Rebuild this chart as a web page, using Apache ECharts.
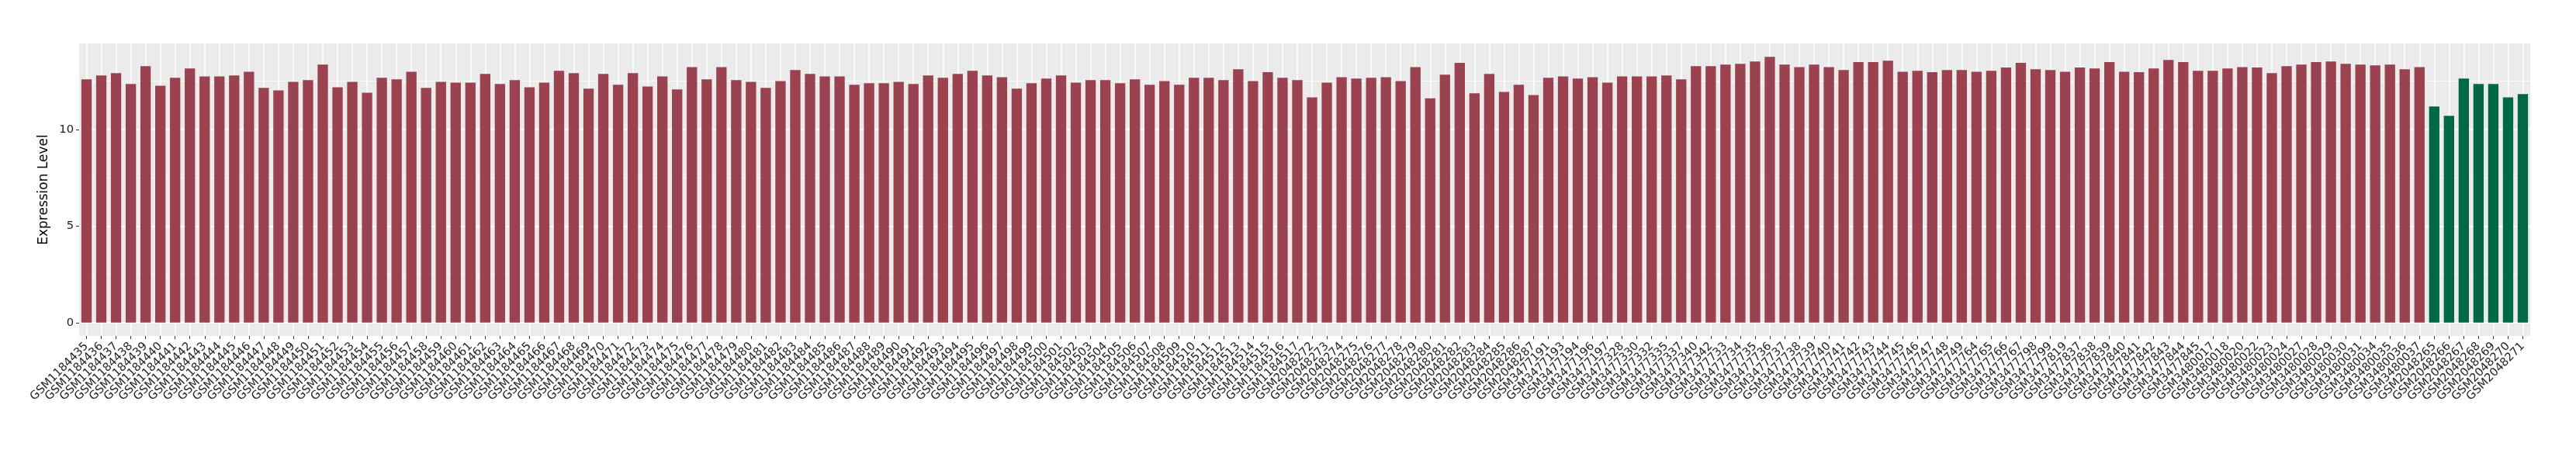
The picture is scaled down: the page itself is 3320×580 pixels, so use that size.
<!DOCTYPE html>
<html>
<head>
<meta charset="utf-8">
<script src="https://cdn.jsdelivr.net/npm/echarts@6/dist/echarts.min.js"></script>
<style>
html,body{margin:0;padding:0;background:#fff;}
#chart{width:3320px;height:580px;}
</style>
</head>
<body>
<div id="chart"></div>
<script>
const redSamples = [
"GSM1184435","GSM1184436","GSM1184437","GSM1184438","GSM1184439","GSM1184440","GSM1184441","GSM1184442","GSM1184443","GSM1184444",
"GSM1184445","GSM1184446","GSM1184447","GSM1184448","GSM1184449","GSM1184450","GSM1184451","GSM1184452","GSM1184453","GSM1184454",
"GSM1184455","GSM1184456","GSM1184457","GSM1184458","GSM1184459","GSM1184460","GSM1184461","GSM1184462","GSM1184463","GSM1184464",
"GSM1184465","GSM1184466","GSM1184467","GSM1184468","GSM1184469","GSM1184470","GSM1184471","GSM1184472","GSM1184473","GSM1184474",
"GSM1184475","GSM1184476","GSM1184477","GSM1184478","GSM1184479","GSM1184480","GSM1184481","GSM1184482","GSM1184483","GSM1184484",
"GSM1184485","GSM1184486","GSM1184487","GSM1184488","GSM1184489","GSM1184490","GSM1184491","GSM1184492","GSM1184493","GSM1184494",
"GSM1184495","GSM1184496","GSM1184497","GSM1184498","GSM1184499","GSM1184500","GSM1184501","GSM1184502","GSM1184503","GSM1184504",
"GSM1184505","GSM1184506","GSM1184507","GSM1184508","GSM1184509","GSM1184510","GSM1184511","GSM1184512","GSM1184513","GSM1184514",
"GSM1184515","GSM1184516","GSM1184517",
"GSM2048272","GSM2048273","GSM2048274","GSM2048275","GSM2048276","GSM2048277","GSM2048278","GSM2048279","GSM2048280","GSM2048281",
"GSM2048282","GSM2048283","GSM2048284","GSM2048285","GSM2048286","GSM2048287",
"GSM3477191","GSM3477193","GSM3477194","GSM3477196","GSM3477197","GSM3477328","GSM3477330","GSM3477332","GSM3477335","GSM3477337",
"GSM3477340","GSM3477342","GSM3477733","GSM3477734","GSM3477735","GSM3477736","GSM3477737","GSM3477738","GSM3477739","GSM3477740",
"GSM3477741","GSM3477742","GSM3477743","GSM3477744","GSM3477745","GSM3477746","GSM3477747","GSM3477748","GSM3477749","GSM3477764",
"GSM3477765","GSM3477766","GSM3477767","GSM3477798","GSM3477799","GSM3477819","GSM3477837","GSM3477838","GSM3477839","GSM3477840",
"GSM3477841","GSM3477842","GSM3477843","GSM3477844","GSM3477845",
"GSM3480017","GSM3480018","GSM3480020","GSM3480022","GSM3480023","GSM3480024","GSM3480027","GSM3480028","GSM3480029","GSM3480030",
"GSM3480031","GSM3480034","GSM3480035","GSM3480036","GSM3480037"
];
const redValues = [
12.60,12.80,12.92,12.36,13.28,12.27,12.68,13.16,12.75,12.75,
12.80,12.99,12.16,12.03,12.47,12.56,13.36,12.19,12.47,11.91,
12.68,12.60,12.99,12.16,12.47,12.43,12.43,12.88,12.36,12.56,
12.19,12.43,13.04,12.92,12.12,12.88,12.32,12.92,12.23,12.75,
12.08,13.23,12.60,13.23,12.56,12.47,12.16,12.51,13.08,12.88,
12.75,12.75,12.32,12.40,12.40,12.47,12.36,12.80,12.68,12.88,
13.04,12.80,12.71,12.12,12.40,12.64,12.80,12.43,12.56,12.56,
12.40,12.60,12.32,12.51,12.32,12.68,12.68,12.56,13.12,12.51,
12.97,12.68,12.56,
11.67,12.43,12.71,12.64,12.68,12.71,12.51,13.23,11.62,12.84,
13.45,11.88,12.88,11.95,12.32,11.79,
12.68,12.75,12.64,12.71,12.43,12.75,12.75,12.75,12.80,12.60,
13.28,13.28,13.36,13.40,13.52,13.77,13.36,13.23,13.36,13.23,
13.08,13.49,13.49,13.56,12.99,13.04,12.97,13.08,13.08,12.99,
13.04,13.21,13.45,13.12,13.08,12.99,13.21,13.16,13.49,12.99,
12.97,13.16,13.60,13.49,13.04,
13.04,13.16,13.23,13.21,12.92,13.28,13.36,13.49,13.52,13.40,
13.36,13.32,13.36,13.12,13.23
];
const greenSamples = ["GSM2048265","GSM2048266","GSM2048267","GSM2048268","GSM2048269","GSM2048270","GSM2048271"];
const greenValues = [11.19,10.71,12.64,12.36,12.36,11.67,11.84];

const yMajorTicks = [0, 5, 10];
const yMinorTicks = [2.5, 7.5, 12.5];
const yTitle = "Expression Level";

const RED = "#9A4250";
const GREEN = "#006847";

const categories = redSamples.concat(greenSamples);
const barData = redValues.map(v => ({value: v, itemStyle: {color: RED}}))
  .concat(greenValues.map(v => ({value: v, itemStyle: {color: GREEN}})));
const allVals = redValues.concat(greenValues);
const dMax = Math.max.apply(null, allVals);
const yMin = -0.05 * dMax, yMax = dMax * 1.05;
const catIndex = categories.map((_, i) => i);

const chart = echarts.init(document.getElementById('chart'), null, {renderer: 'canvas'});
const FONT = 'DejaVu Sans';
chart.setOption({
  animation: false,
  backgroundColor: '#ffffff',
  grid: {
    left: 102, right: 59, top: 56, bottom: 147,
    show: true, backgroundColor: '#EBEBEB', borderWidth: 0
  },
  xAxis: [{
    type: 'category',
    data: categories,
    boundaryGap: true,
    axisLine: {show: false, onZero: false},
    axisTick: {show: true, alignWithLabel: true, length: 4, lineStyle: {color: '#333333', width: 1}},
    splitLine: {show: false},
    axisLabel: {
      interval: 0, rotate: 45, margin: 11,
      fontFamily: FONT, fontSize: 14.7, color: '#222222'
    }
  }, {
    type: 'value',
    min: -0.5, max: categories.length - 0.5,
    position: 'bottom',
    axisLine: {show: false, onZero: false},
    axisTick: {show: false, customValues: catIndex},
    axisLabel: {show: false},
    splitLine: {show: true, lineStyle: {color: '#FFFFFF', width: 1.5}}
  }],
  yAxis: [{
    type: 'value',
    min: yMin, max: yMax,
    name: yTitle,
    nameLocation: 'middle',
    nameRotate: 90,
    nameGap: 28,
    nameTextStyle: {fontFamily: FONT, fontSize: 17, color: '#000000'},
    axisLine: {show: false, onZero: false},
    axisTick: {show: true, length: 4, customValues: yMajorTicks, lineStyle: {color: '#333333', width: 1}},
    axisLabel: {customValues: yMajorTicks, margin: 7, fontFamily: FONT, fontSize: 14.7, color: '#222222'},
    splitLine: {show: true, lineStyle: {color: '#FFFFFF', width: 1.5}}
  }, {
    type: 'value',
    min: yMin, max: yMax,
    position: 'left',
    axisLine: {show: false, onZero: false},
    axisTick: {show: false, customValues: yMinorTicks},
    axisLabel: {show: false},
    splitLine: {show: true, lineStyle: {color: '#FFFFFF', width: 0.75}}
  }],
  series: [{
    type: 'bar',
    xAxisIndex: 0,
    yAxisIndex: 0,
    data: barData,
    barWidth: '70%',
    z: 3
  }]
});
</script>
</body>
</html>
